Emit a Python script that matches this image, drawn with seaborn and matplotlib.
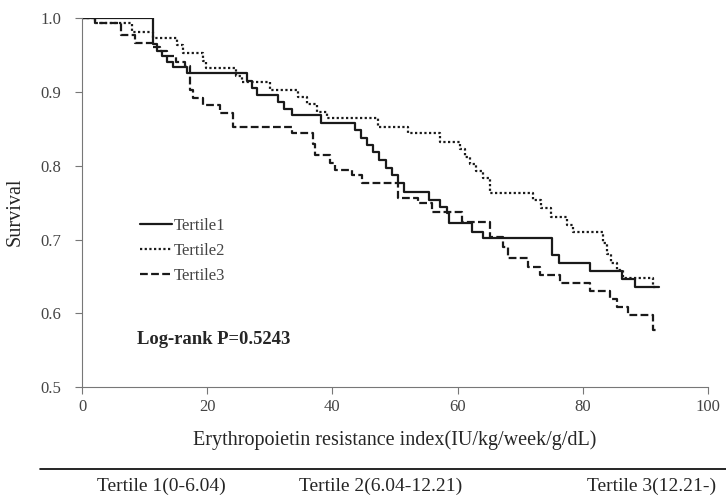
import numpy as np
import pandas as pd
import seaborn as sns
import matplotlib
matplotlib.use('Agg')
import matplotlib.pyplot as plt
from matplotlib.lines import Line2D

# survival steps: x where the curve drops, survival after the drop
t1_x = [0, 11.3, 12.0, 12.8, 13.6, 14.5, 16.8, 26.4, 27.2, 28.0, 31.3, 32.3, 33.6, 38.2,
        43.6, 44.6, 45.5, 46.5, 47.5, 48.5, 49.5, 50.5, 51.4, 55.5, 57.2, 58.3, 58.6,
        62.3, 64.1, 75.1, 76.2, 81.2, 86.3, 88.3, 92.2]
t1_y = [1.0, 0.965, 0.955, 0.948, 0.940, 0.933, 0.925, 0.915, 0.905, 0.896, 0.886, 0.877,
        0.868, 0.858, 0.848, 0.838, 0.828, 0.818, 0.808, 0.797, 0.787, 0.776, 0.764,
        0.753, 0.744, 0.736, 0.722, 0.710, 0.702, 0.679, 0.668, 0.657, 0.646, 0.636, 0.636]

t2_x = [0, 2.1, 8.0, 11.3, 15.2, 16.1, 19.3, 19.8, 24.6, 25.5, 30.0, 34.5, 36.0, 37.5,
        39.1, 47.3, 52.1, 57.2, 60.4, 61.2, 62.0, 63.0, 64.0, 65.2, 72.0, 73.3, 75.0,
        77.5, 78.5, 83.2, 83.9, 84.5, 85.5, 86.4, 91.2, 91.8]
t2_y = [1.0, 0.993, 0.981, 0.973, 0.963, 0.953, 0.942, 0.932, 0.922, 0.913, 0.902, 0.893,
        0.883, 0.873, 0.864, 0.852, 0.844, 0.832, 0.822, 0.812, 0.802, 0.793, 0.783,
        0.763, 0.753, 0.743, 0.730, 0.720, 0.710, 0.695, 0.680, 0.668, 0.659, 0.648,
        0.636, 0.636]

t3_x = [0, 2.1, 6.2, 8.5, 11.3, 12.5, 13.5, 15.0, 16.5, 17.3, 17.7, 19.3, 22.0, 24.1,
        33.5, 36.9, 37.2, 39.6, 40.4, 43.1, 44.7, 50.5, 53.7, 56.0, 60.7, 65.2, 67.3,
        68.1, 71.2, 73.2, 76.4, 81.2, 84.3, 85.5, 87.2, 91.2, 92.0]
t3_y = [1.0, 0.993, 0.977, 0.966, 0.961, 0.955, 0.948, 0.940, 0.935, 0.902, 0.891, 0.882,
        0.871, 0.852, 0.844, 0.830, 0.814, 0.803, 0.794, 0.787, 0.776, 0.756, 0.749,
        0.737, 0.724, 0.703, 0.690, 0.675, 0.663, 0.652, 0.641, 0.630, 0.620, 0.608,
        0.598, 0.578, 0.578]

groups = ['Tertile1', 'Tertile2', 'Tertile3']
x_ticks = [0, 20, 40, 60, 80, 100]
y_ticks = [0.5, 0.6, 0.7, 0.8, 0.9, 1.0]
bottom_labels = ['Tertile 1(0-6.04)', 'Tertile 2(6.04-12.21)', 'Tertile 3(12.21-)']

df = pd.concat([
    pd.DataFrame({'x': t1_x, 'y': t1_y, 'group': groups[0]}),
    pd.DataFrame({'x': t2_x, 'y': t2_y, 'group': groups[1]}),
    pd.DataFrame({'x': t3_x, 'y': t3_y, 'group': groups[2]}),
])

sns.set_style('white')
plt.rcParams['font.family'] = ['Liberation Serif', 'DejaVu Serif']

fig, ax = plt.subplots(figsize=(7.26, 4.99), dpi=100)
fig.subplots_adjust(left=0.113, right=0.975, top=0.964, bottom=0.224)

sns.lineplot(data=df, x='x', y='y', style='group', color='#1a1a1a', linewidth=1.6,
             dashes={'Tertile1': '', 'Tertile2': (1, 1.1), 'Tertile3': (3.5, 1.5)},
             drawstyle='steps-post', estimator=None, sort=False, ax=ax)

ax.set_xlim(0, 100)
ax.set_ylim(0.5, 1.0)
ax.set_xticks(x_ticks)
ax.set_yticks(y_ticks)
ax.set_yticklabels(['%.1f' % v for v in y_ticks])
ax.tick_params(direction='out', length=5, width=0.8, color='#777', labelsize=12,
               labelcolor='#444', left=True, bottom=True)
ax.tick_params(axis='y', pad=10)
for s in ['top', 'right']:
    ax.spines[s].set_visible(False)
for s in ['left', 'bottom']:
    ax.spines[s].set_color('#777')
    ax.spines[s].set_linewidth(0.8)

ax.set_xlabel('Erythropoietin resistance index(IU/kg/week/g/dL)', fontsize=14.5, labelpad=11)
ax.set_ylabel('Survival', fontsize=14.5, labelpad=12)
ax.yaxis.set_label_coords(-0.092, 0.475)

h, l = ax.get_legend_handles_labels()
ax.legend(h, l, loc='upper left', bbox_to_anchor=(0.069, 0.5), frameon=False,
          fontsize=12, handlelength=1.9, handletextpad=0.1, labelspacing=0.55,
          labelcolor='#444')

ax.text(0.088, 0.13, 'Log-rank P=0.5243', transform=ax.transAxes, fontsize=13.4,
        fontweight='bold', va='center')

fig.add_artist(Line2D([40 / 726, 1.0], [1 - 469 / 499] * 2, color='black', lw=1.2,
                      transform=fig.transFigure))
fig.text(97 / 726, 1 - 486 / 499, bottom_labels[0], ha='left', va='center', fontsize=14)
fig.text(381 / 726, 1 - 486 / 499, bottom_labels[1], ha='center', va='center', fontsize=14)
fig.text(716 / 726, 1 - 486 / 499, bottom_labels[2], ha='right', va='center', fontsize=14)

fig.savefig('out.png', dpi=100)
